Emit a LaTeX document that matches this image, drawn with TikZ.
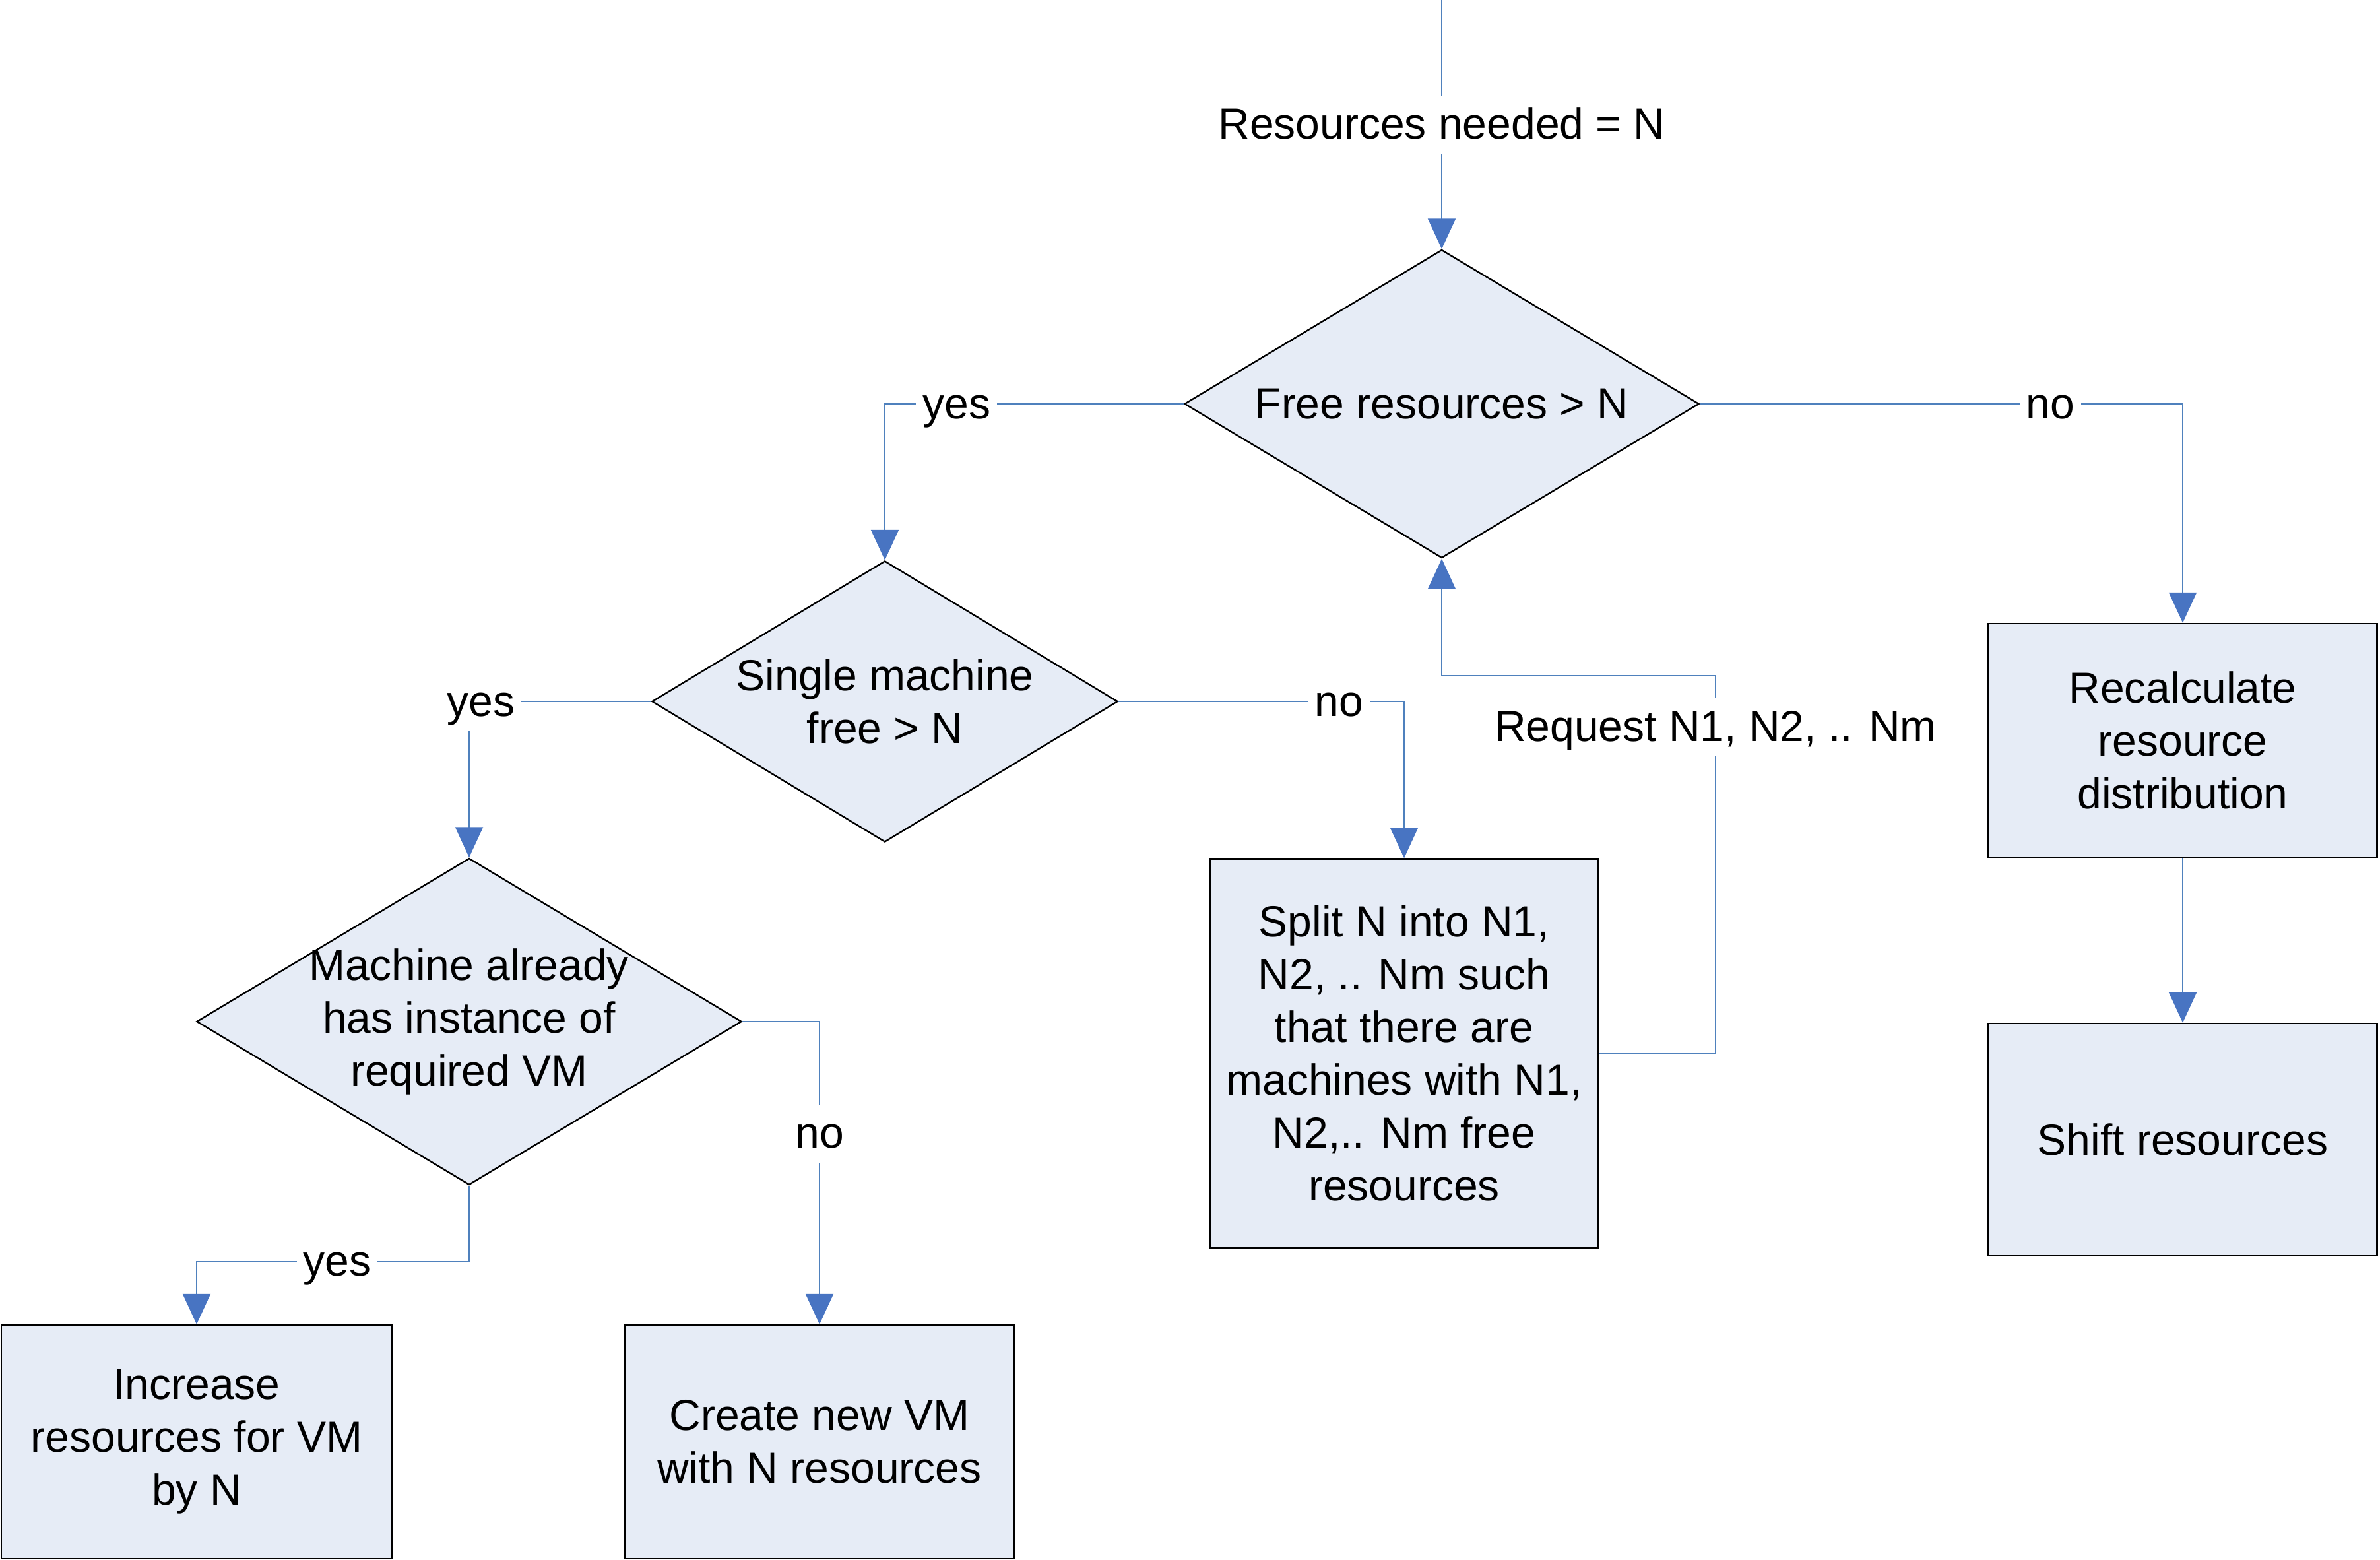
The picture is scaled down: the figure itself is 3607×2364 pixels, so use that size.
\documentclass[tikz,border=0pt]{standalone}
\usepackage{fontspec}
\setmainfont{Liberation Sans}
\usetikzlibrary{shapes.geometric,arrows.meta}
\definecolor{lineblue}{RGB}{79,129,189}
\definecolor{arrowblue}{RGB}{72,116,194}
\definecolor{boxfill}{RGB}{230,236,246}
\begin{document}
\begin{tikzpicture}[x=0.25pt,y=-0.25pt,
  font=\fontsize{16.5}{20}\selectfont,
  dec/.style={diamond,draw=black,fill=boxfill,line width=0.6pt,inner sep=0pt},
  proc/.style={rectangle,draw=black,fill=boxfill,line width=0.6pt,inner sep=0pt,align=center},
  txt/.style={align=center,inner sep=0pt},
  conn/.style={draw=lineblue,line width=0.5pt,-{Triangle[width=10.5pt,length=11.5pt,color=arrowblue]}},
  lbl/.style={fill=white,inner sep=2.5pt,text=black,text height=14pt,text depth=3pt}]
\useasboundingbox (0,0) rectangle (3607,2364);

% decisions
\node[dec,minimum width=195pt,minimum height=116.75pt] (d1) at (2185,612) {};
\node[txt] (d1t) at (d1) {Free resources > N};
\node[dec,minimum width=176.5pt,minimum height=106.5pt] (d2) at (1341,1063) {};
\node[txt] (d2t) at (d2) {Single machine\\free > N};
\node[dec,minimum width=206.5pt,minimum height=123.75pt] (d3) at (711,1548) {};
\node[txt] (d3t) at (d3) {Machine already\\has instance of\\required VM};

% process boxes
\node[proc,minimum width=148pt,minimum height=88.5pt] (inc) at (298,2185) {Increase\\resources for VM\\by N};
\node[proc,minimum width=147.25pt,minimum height=88.5pt] (cre) at (1242,2185) {Create new VM\\with N resources};
\node[proc,minimum width=147.25pt,minimum height=147.25pt] (spl) at (2128,1596) {Split N into N1,\\N2, .. Nm such\\that there are\\machines with N1,\\N2,.. Nm free\\resources};
\node[proc,minimum width=147.25pt,minimum height=88.5pt] (r1) at (3308,1122) {Recalculate\\resource\\distribution};
\node[proc,minimum width=147.25pt,minimum height=88pt] (r2) at (3308,1727) {Shift resources};

% connectors
\coordinate (start) at (2185,0);
\coordinate (fb) at (2600,1024);
\draw[conn] (start) -- node[lbl,pos=0.5]{Resources needed = N} (d1.north);
\draw[conn] (d1.west) -| node[lbl,pos=0.38]{yes} (d2.north);
\draw[conn] (d1.east) -| node[lbl,pos=0.363]{no} (r1.north);
\draw[conn] (d2.west) -| node[lbl,pos=0.468]{yes} (d3.north);
\draw[conn] (d2.east) -| node[lbl,pos=0.386]{no} (spl.north);
\draw[conn] (d3.south) -- ++(0,115) -| node[lbl,pos=0.242]{yes} (inc.north);
\draw[conn] (d3.east) -| node[lbl,pos=0.685]{no} (cre.north);
\draw[conn] (spl.east) -| node[lbl,pos=0.932]{Request N1, N2, .. Nm} (fb) -| (d1.south);
\draw[conn] (r1) -- (r2);
\end{tikzpicture}
\end{document}
